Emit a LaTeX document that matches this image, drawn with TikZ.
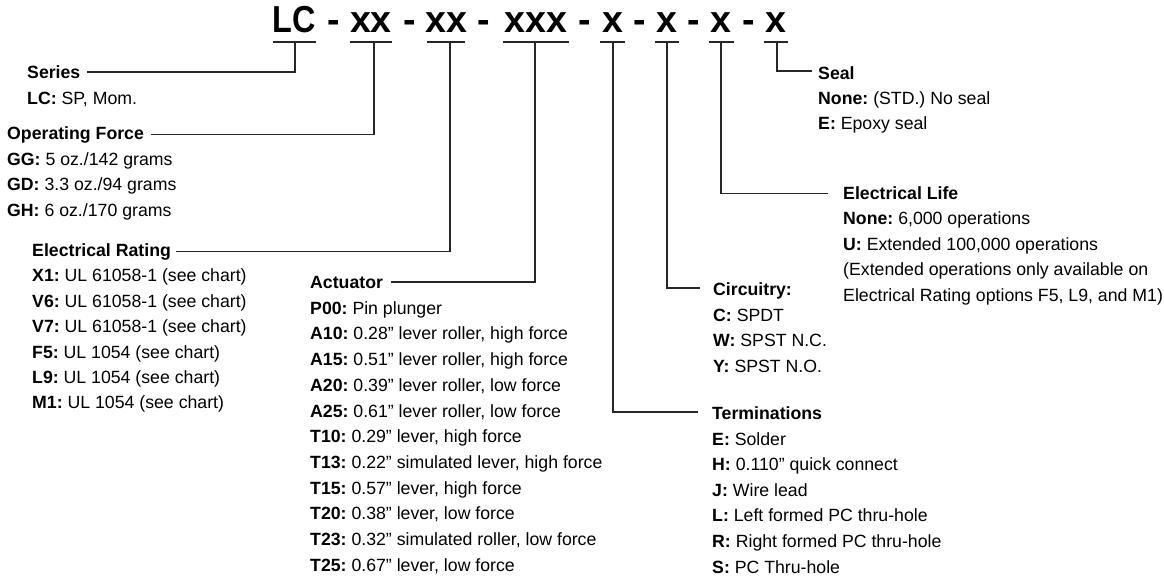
\documentclass[tikz,border=0pt]{standalone}
\usepackage{fontspec}
\usepackage{graphicx}
\setmainfont{Liberation Sans}
\frenchspacing
\usetikzlibrary{calc}
\tikzset{
  lbl/.style={anchor=base west, inner sep=0pt, font=\fontsize{17.7}{21}\selectfont},
  hdr/.style={anchor=base west, inner sep=0pt, font=\fontsize{17.7}{21}\selectfont\bfseries},
  tok/.style={anchor=base, inner sep=0pt, font=\fontsize{37.6}{40}\selectfont\bfseries},
  conn/.style={draw=black!85, line width=1.3pt},
}
\begin{document}
\begin{tikzpicture}[x=1pt,y=-1pt]
\useasboundingbox[fill=white] (0,0) rectangle (1164,581);

% ---- title tokens
\node[tok] (tLC)  at (294.5,32) {\scalebox{0.86}[1]{LC}};
\node[tok] (tF)   at (371,32) {xx};
\node[tok] (tR)   at (446,32) {xx};
\node[tok] (tA)   at (536,32) {xxx};
\node[tok] (tT)   at (612.5,32) {x};
\node[tok] (tC)   at (667,32) {x};
\node[tok] (tE)   at (721,32) {x};
\node[tok] (tS)   at (776,32) {x};
\foreach \h/\x in {1/333.5,2/409.5,3/484,4/584.5,5/640,6/693.5,7/748.5}
  \node[tok] (hy\h) at (\x,32) {-};

% ---- underlines
\foreach \n/\w in {tLC/21.5,tF/21,tR/19,tA/33,tT/12.5,tC/12,tE/12.5,tS/12}
  \draw[conn] ($(\n.base)+(-\w,10)$) -- ($(\n.base)+(\w,10)$);

% ---- Series
\node[hdr] (series) at (27,78.5) {Series};
\node[lbl] (ser1) at (27,104.5) {\textbf{LC:} SP, Mom.};

% ---- Operating Force
\node[hdr] (opf) at (7,139.5) {Operating Force};
\foreach \i/\t in {1/{\textbf{GG:} 5 oz./142 grams},2/{\textbf{GD:} 3.3 oz./94 grams},3/{\textbf{GH:} 6 oz./170 grams}}
  \node[lbl] (opf\i) at (7,{139.5+25.6*\i}) {\t};

% ---- Electrical Rating
\node[hdr] (elr) at (32,256.5) {Electrical Rating};
\foreach \i/\t in {1/{\textbf{X1:} UL 61058-1 (see chart)},2/{\textbf{V6:} UL 61058-1 (see chart)},3/{\textbf{V7:} UL 61058-1 (see chart)},4/{\textbf{F5:} UL 1054 (see chart)},5/{\textbf{L9:} UL 1054 (see chart)},6/{\textbf{M1:} UL 1054 (see chart)}}
  \node[lbl] (elr\i) at (32,{256.5+25.4*\i}) {\t};

% ---- Actuator
\node[hdr] (act) at (310,288.5) {Actuator};
\foreach \i/\t in {1/{\textbf{P00:} Pin plunger},
  2/{\textbf{A10:} 0.28” lever roller, high force},
  3/{\textbf{A15:} 0.51” lever roller, high force},
  4/{\textbf{A20:} 0.39” lever roller, low force},
  5/{\textbf{A25:} 0.61” lever roller, low force},
  6/{\textbf{T10:} 0.29” lever, high force},
  7/{\textbf{T13:} 0.22” simulated lever, high force},
  8/{\textbf{T15:} 0.57” lever, high force},
  9/{\textbf{T20:} 0.38” lever, low force},
  10/{\textbf{T23:} 0.32” simulated roller, low force},
  11/{\textbf{T25:} 0.67” lever, low force}}
  \node[lbl] (act\i) at (310,{288.5+25.7*\i}) {\t};

% ---- Circuitry
\node[hdr] (cir) at (713,295.5) {Circuitry:};
\foreach \i/\t in {1/{\textbf{C:} SPDT},2/{\textbf{W:} SPST N.C.},3/{\textbf{Y:} SPST N.O.}}
  \node[lbl] (cir\i) at (713,{295.5+25.6*\i}) {\t};

% ---- Terminations
\node[hdr] (ter) at (712,419.5) {Terminations};
\foreach \i/\t in {1/{\textbf{E:} Solder},2/{\textbf{H:} 0.110” quick connect},3/{\textbf{J:} Wire lead},4/{\textbf{L:} Left formed PC thru-hole},5/{\textbf{R:} Right formed PC thru-hole},6/{\textbf{S:} PC Thru-hole}}
  \node[lbl] (ter\i) at (712,{419.5+25.6*\i}) {\t};

% ---- Electrical Life
\node[hdr] (ell) at (843,199.5) {Electrical Life};
\foreach \i/\t in {1/{\textbf{None:} 6,000 operations},2/{\textbf{U:} Extended 100,000 operations},3/{(Extended operations only available on},4/{Electrical Rating options F5, L9, and M1)}}
  \node[lbl] (ell\i) at (843,{199.5+25.4*\i}) {\t};

% ---- Seal
\node[hdr] (seal) at (818,79.5) {Seal};
\foreach \i/\t in {1/{\textbf{None:} (STD.) No seal},2/{\textbf{E:} Epoxy seal}}
  \node[lbl] (seal\i) at (818,{79.5+25*\i}) {\t};

% ---- connectors
\coordinate (kLC) at (295,42);
\coordinate (kF)  at (374,42);
\coordinate (kR)  at (450,42);
\coordinate (kA)  at (535,42);
\coordinate (kT)  at (613,42);
\coordinate (kC)  at (667,42);
\coordinate (kE)  at (721,42);
\coordinate (kS)  at (777,42);

\draw[conn] (kLC) |- ($(series.base east)+(6,-6.5)$);
\draw[conn] (kF)  |- ($(opf.base east)+(7,-5)$);
\draw[conn] (kR)  |- ($(elr.base east)+(5,-5)$);
\draw[conn] (kA)  |- ($(act.base east)+(8,-6.5)$);
\draw[conn] (kT)  |- ($(ter.base west)+(-14,-7.5)$);
\draw[conn] (kC)  |- ($(cir.base west)+(-13,-7.5)$);
\draw[conn] (kE)  |- ($(ell.base west)+(-15,-6)$);
\draw[conn] (kS)  |- ($(seal.base west)+(-6,-8.5)$);
\end{tikzpicture}
\end{document}
